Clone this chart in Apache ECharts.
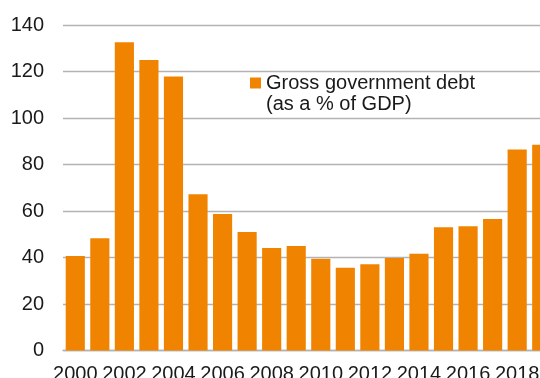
<!DOCTYPE html>
<html>
<head>
<meta charset="utf-8">
<script src="https://cdn.jsdelivr.net/npm/echarts@6/dist/echarts.min.js"></script>
<style>
html,body{margin:0;padding:0;background:#fff;}
#chart{width:540px;height:378px;}
</style>
</head>
<body>
<div id="chart"></div>
<script>
const years = ['2000','2001','2002','2003','2004','2005','2006','2007','2008','2009','2010','2011','2012','2013','2014','2015','2016','2017','2018','2019'];
const debt = [40.6, 48.3, 132.6, 125.0, 117.8, 67.2, 58.7, 51.0, 44.1, 44.9, 39.5, 35.6, 37.1, 39.8, 41.6, 53.0, 53.4, 56.6, 86.5, 88.5];
const seriesName = 'Gross government debt\n(as a % of GDP)';
const yTicks = {min: 0, max: 140, step: 20};

const chart = echarts.init(document.getElementById('chart'), null, {renderer: 'canvas'});
chart.setOption({
  animation: false,
  backgroundColor: '#ffffff',
  textStyle: {fontFamily: 'Liberation Sans, Arial, sans-serif'},
  grid: {left: 63, top: 25, width: 491, bottom: 27.5, containLabel: false, outerBoundsMode: 'none'},
  legend: {
    data: [seriesName],
    left: 250, top: 51.5, padding: 0,
    itemWidth: 11, itemHeight: 11, itemGap: 0,
    icon: 'rect',
    formatter: function (n) { return '\n' + n; },
    textStyle: {fontSize: 20, color: '#1a1a1a', lineHeight: 21}
  },
  xAxis: {
    type: 'category',
    data: years,
    axisLine: {show: true, lineStyle: {color: '#b3b3b3', width: 1.3}},
    axisTick: {show: false},
    axisLabel: {interval: 1, fontSize: 20, color: '#1a1a1a', margin: 14}
  },
  yAxis: {
    type: 'value',
    min: yTicks.min, max: yTicks.max, interval: yTicks.step,
    axisLine: {show: false},
    axisTick: {show: false},
    axisLabel: {fontSize: 20, color: '#1a1a1a', margin: 19},
    splitLine: {lineStyle: {color: '#b3b3b3', width: 1.3}}
  },
  series: [{
    name: seriesName,
    type: 'bar',
    data: debt,
    barCategoryGap: '22%',
    itemStyle: {color: '#F08400'}
  }]
});
</script>
</body>
</html>
